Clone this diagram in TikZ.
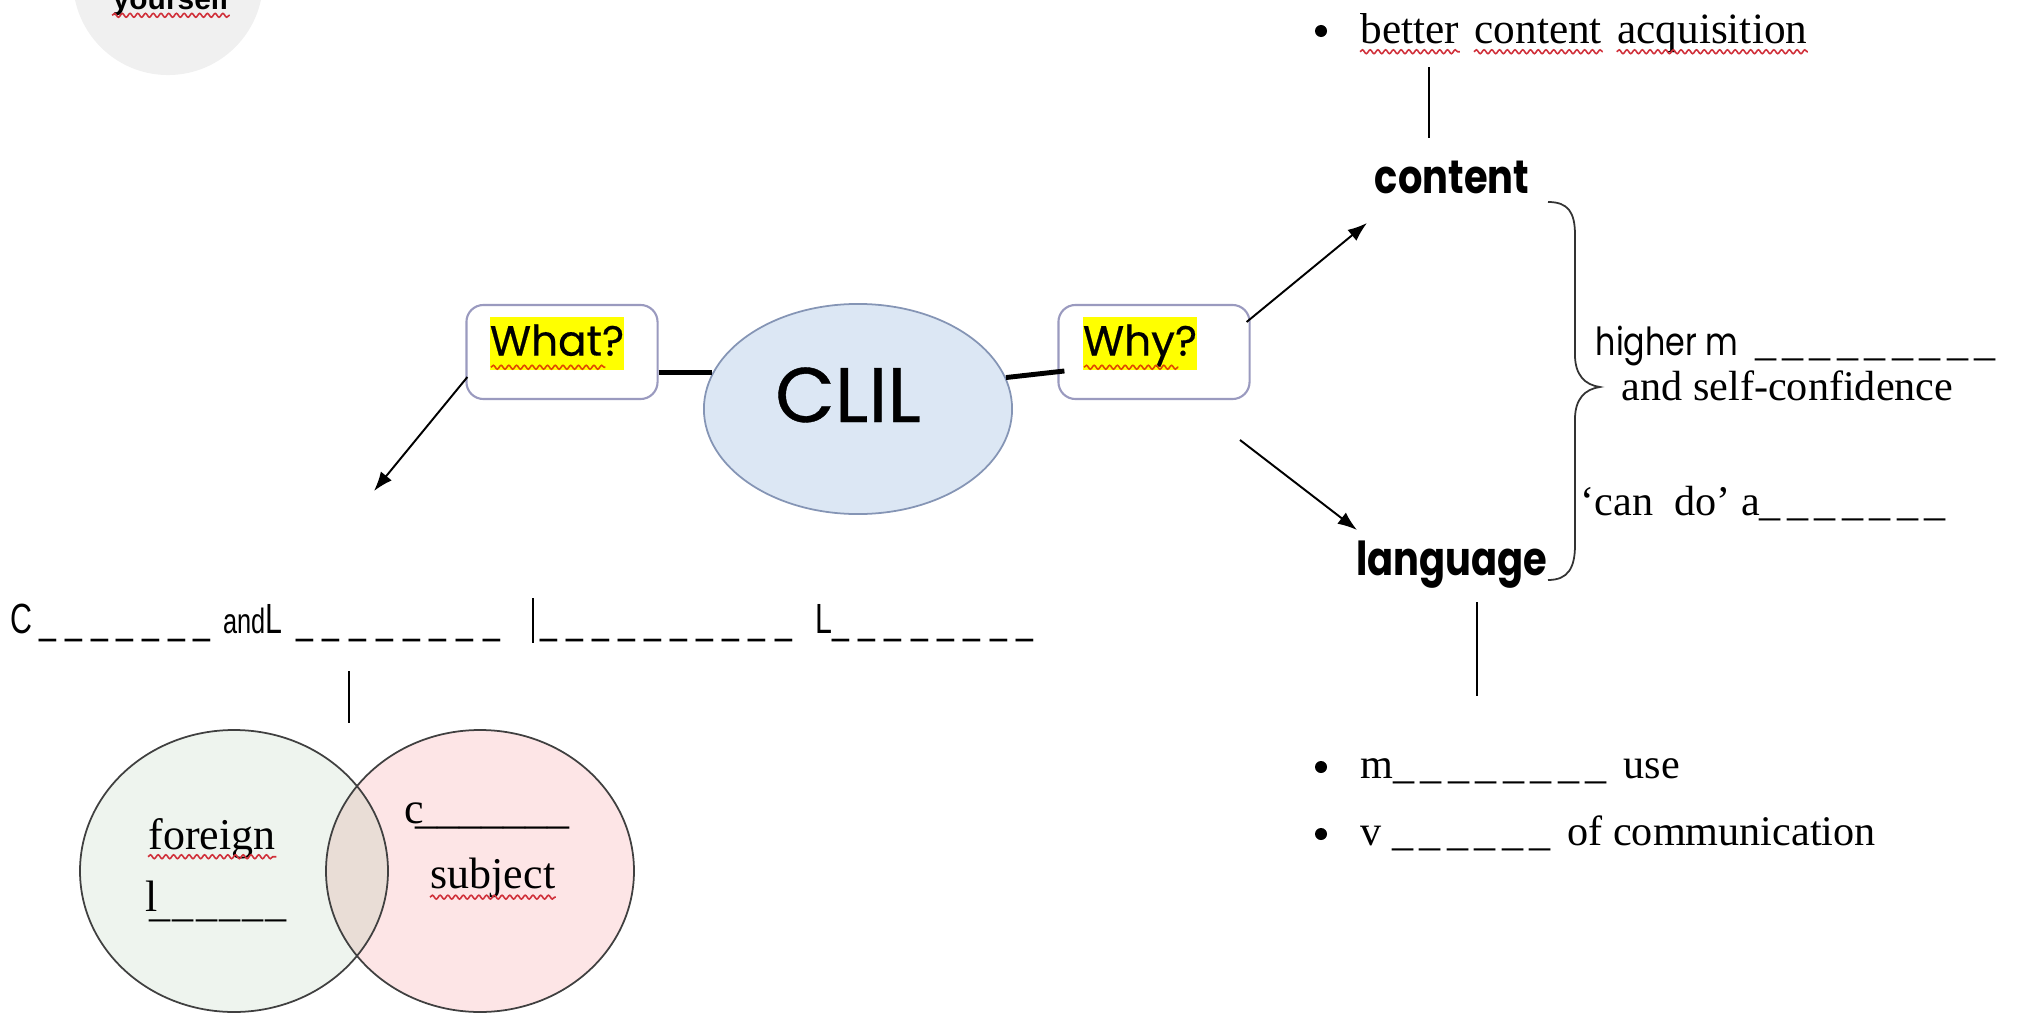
\documentclass[tikz,border=0pt]{standalone}
\usepackage{fontspec}
\setmainfont{Liberation Serif}
\newfontfamily\popfont[FakeBold=0.5]{Poppins}
\newfontfamily\popnarrow[FakeStretch=0.82]{Poppins}
\newfontfamily\condfont[FakeStretch=0.72]{Liberation Sans}
\newfontfamily\arialfont{Liberation Sans}
\usetikzlibrary{arrows.meta,calc,decorations.pathmorphing,shapes.geometric}

\definecolor{badgegray}{HTML}{F0F0F0}
\definecolor{clilfill}{HTML}{DCE7F4}
\definecolor{clilline}{HTML}{8595B5}
\definecolor{boxline}{HTML}{9A9ABF}
\definecolor{vennleft}{HTML}{EEF4EE}
\definecolor{vennright}{HTML}{FDE5E6}
\definecolor{vennmid}{HTML}{E9DDD6}
\definecolor{spellred}{HTML}{D0303A}
\definecolor{spellorange}{HTML}{E04A00}
\definecolor{hlyellow}{HTML}{FFFF00}

% a row of blanks: #1 underscores, each followed by a kern of #2
\newcommand\blk[2]{\foreach \k in {1,...,#1}{\_\kern#2}}

\begin{document}
\begin{tikzpicture}[x=0.01cm,y=-0.01cm,
  serif/.style={inner sep=0pt, font=\fontsize{12}{14}\selectfont},
  venntext/.style={inner sep=0pt, font=\fontsize{12.5}{14}\selectfont},
  rowtext/.style={inner sep=0pt, font=\fontsize{12}{14}\condfont},
  bold/.style={inner sep=0pt, font=\fontsize{13.3}{15}\popnarrow\bfseries},
  wavy/.style={draw=spellred, line width=0.45pt, decorate,
    decoration={snake, amplitude=0.55pt, segment length=2.2pt}},
  wavyo/.style={wavy, draw=spellorange},
  dot/.style={circle, fill=black, inner sep=0pt, minimum size=0.12cm},
  thin/.style={line width=0.45pt},
  arr/.style={line width=0.55pt, -{Latex[length=5.5pt,width=4pt]}},
  link/.style={line width=1.4pt},
  qbox/.style={draw=boxline, line width=0.6pt, fill=white, rounded corners=0.17cm,
    minimum width=1.91cm, minimum height=0.94cm, inner sep=0pt},
  hl/.style={fill=hlyellow, inner xsep=0pt, inner ysep=0pt, text height=11pt,
    text depth=4.1pt, font=\fontsize{12}{14}\popfont},
  vennline/.style={draw=black!75, line width=0.5pt}]
\useasboundingbox (0,0) rectangle (2017,1015);

% corner badge
\node[circle, fill=badgegray, inner sep=0pt, minimum size=1.9cm] (badge) at (168,-20) {};
\node[anchor=base, inner sep=0pt, font=\fontsize{8.5}{10}\arialfont\bfseries] (you) at (171,9) {yourself};
\draw[wavy] ([yshift=-1.8pt]you.base west) -- ([yshift=-1.8pt]you.base east);

% centre of the map
\node[ellipse, draw=clilline, line width=0.5pt, fill=clilfill, minimum width=3.08cm,
  minimum height=2.1cm, inner sep=0pt] (clil) at (858,409) {};
\node[anchor=base, inner sep=0pt, font=\fontsize{22}{24}\popfont] (cliltext) at (848,422) {CLIL};

\node[qbox] (what) at (562,352) {};
\node[hl] (whatt) at (557,343.5) {What?};
\draw[wavyo] ([xshift=0.5pt,yshift=1pt]whatt.south west) -- ([xshift=-5.5pt,yshift=1pt]whatt.south east);

\node[qbox] (why) at (1154,352) {};
\node[hl] (whyt) at (1140,343.5) {Why?};
\draw[wavyo] ([xshift=0.5pt,yshift=1pt]whyt.south west) -- ([xshift=-5.5pt,yshift=1pt]whyt.south east);

\draw[link] (what.east |- clil.166) -- (clil.166);
\draw[link] (clil.12) -- ($(why.west)+(7,19)$);

% branch: why
\node[bold, anchor=base] (content) at (1452,193) {content};
\node[bold, anchor=base] (language) at (1452,575) {language};
\coordinate (whyA) at ($(why.east)+(-4,-30)$);
\coordinate (whyB) at (1240,440);
\coordinate (contentTip) at (1367,223);
\coordinate (languageTip) at (1357,530);
\draw[arr] (whyA) -- (contentTip);
\draw[arr] (whyB) -- (languageTip);

% brace joining content and language
\coordinate (braceTop) at (1548,202);
\coordinate (braceTip) at (1600,387);
\coordinate (braceBot) at (1548,580);
\draw[line width=0.5pt, black!80] (braceTop) .. controls (1568,202) and (1575,212) .. (1575,235)
  -- (1575,355) .. controls (1575,375) and (1585,385) .. (braceTip)
  .. controls (1585,389) and (1575,399) .. (1575,419)
  -- (1575,545) .. controls (1575,568) and (1568,580) .. (braceBot);

\node[anchor=base west, inner sep=0pt, font=\fontsize{11}{13}\popnarrow] (motiv) at (1595,355)
  {higher m\ \ {\rmfamily\fontsize{12}{14}\selectfont\blk{9}{1.8pt}}};
\node[serif, anchor=base west] (selfconf) at (1621,400) {and self-confidence};
\node[serif, anchor=base west] (attitude) at (1580,515) {‘can\ \ do’ a\blk{7}{1.8pt}};

% content outcome
\node[dot] (dot1) at (1321,31) {};
\node[serif, anchor=base west, font=\fontsize{12.3}{14}\selectfont] (w1) at (1360,44) {better};
\node[serif, anchor=base west, font=\fontsize{12.3}{14}\selectfont] (w2) at ([xshift=4pt]w1.base east) {content};
\node[serif, anchor=base west, font=\fontsize{12.3}{14}\selectfont] (w3) at ([xshift=4pt]w2.base east) {acquisition};
\foreach \w in {w1,w2,w3}
  \draw[wavy] ([yshift=-2.2pt]\w.base west) -- ([yshift=-2.2pt]\w.base east);
\coordinate (upTop) at (1429,67);
\coordinate (upBot) at (1429,138);
\draw[thin] (upTop) -- (upBot);

% language outcomes
\coordinate (downTop) at (1477,602);
\coordinate (downBot) at (1477,696);
\draw[thin] (downTop) -- (downBot);
\node[dot] (dot2) at (1321,767) {};
\node[serif, anchor=base west] (use) at (1360,778) {m\blk{8}{1.8pt} use};
\node[dot] (dot3) at (1321,834) {};
\node[serif, anchor=base west] (variety) at (1360,845) {v \blk{6}{1.8pt} of communication};

% branch: what
\coordinate (whatA) at ($(what.west)+(2,25)$);
\coordinate (whatTip) at (374,491);
\draw[arr] (whatA) -- (whatTip);

\node[rowtext, anchor=base west] (rowL) at (10,633)
  {C\hspace{2pt}\blk{7}{2.5pt}\hspace{1pt}{\fontsize{10}{11}\selectfont and}L\hspace{4pt}\blk{8}{2.8pt}};
\coordinate (barTop) at (533,598);
\coordinate (barBot) at (533,643);
\draw[thin] (barTop) -- (barBot);
\node[rowtext, anchor=base west] (rowR) at (540,633)
  {\blk{10}{2.6pt}\hspace{4pt}L\blk{8}{2.7pt}};

\coordinate (stemTop) at (349,671);
\coordinate (stemBot) at (349,723);
\draw[thin] (stemTop) -- (stemBot);

% Venn diagram
\fill[vennleft] (234,871) ellipse [x radius=154, y radius=141];
\fill[vennright] (480,871) ellipse [x radius=154, y radius=141];
\begin{scope}
  \clip (234,871) ellipse [x radius=154, y radius=141];
  \fill[vennmid] (480,871) ellipse [x radius=154, y radius=141];
\end{scope}
\draw[vennline] (234,871) ellipse [x radius=154, y radius=141];
\draw[vennline] (480,871) ellipse [x radius=154, y radius=141];

\node[venntext, anchor=base west] (foreign) at (148,849) {foreign};
\draw[wavy] ([yshift=-2.2pt]foreign.base west) -- ([yshift=-2.2pt]foreign.base east);
\node[venntext, anchor=base west] (lang) at (145,911) {l};
\node[venntext, anchor=base west, font=\fontsize{12}{14}\selectfont] (langblank) at (149,916) {\blk{6}{0.6pt}};
\node[venntext, anchor=base west] (cont) at (404,823) {c\kern-2.5pt\blk{7}{0pt}};
\node[venntext, anchor=base west] (subject) at (430,888) {subject};
\draw[wavy] ([yshift=-2.6pt]subject.base west) -- ([yshift=-2.6pt]subject.base east);

\end{tikzpicture}
\end{document}
